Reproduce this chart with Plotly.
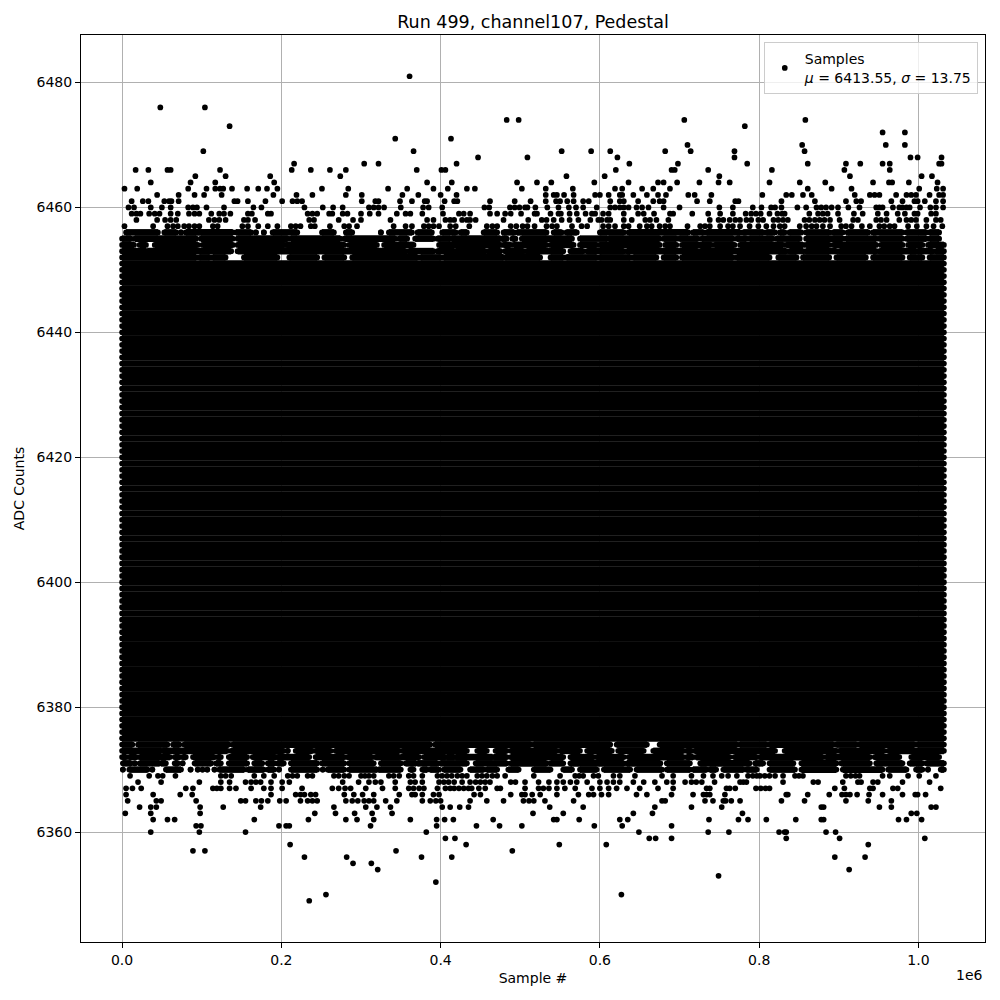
import plotly.graph_objects as go

# ---------------- data (sample positions in thousands of samples) ----------------
SAMPLE_UNIT = 1000
first_sample_k = 0
last_sample_k = 1032

# ADC levels that are fully populated over the whole run
core_low, core_high = 6375, 6451

# partially populated ADC levels: covered sample ranges (k samples)
run_levels = [6456, 6455, 6454, 6453, 6452, 6374, 6373, 6372, 6371, 6370]
run_spans_k = [
    [(5, 45), (53, 68), (74, 74), (80, 139), (143, 162), (168, 168), (178, 178), (189, 220), (251, 266), (281, 289),
     (325, 325), (335, 364), (371, 389), (402, 419), (425, 433), (454, 471), (479, 492), (496, 533), (542, 552),
     (558, 571), (600, 630), (636, 711), (717, 730), (734, 776), (780, 805), (809, 820), (826, 832), (838, 853),
     (859, 888), (893, 905), (911, 937), (943, 980), (985, 1010), (1014, 1026)],
    [(0, 11), (16, 93), (99, 139), (145, 208), (212, 274), (279, 343), (348, 358), (368, 391), (396, 412), (414, 475),
     (477, 483), (490, 494), (502, 565), (575, 609), (611, 675), (680, 696), (700, 723), (728, 767), (772, 784),
     (788, 817), (822, 851), (859, 905), (909, 947), (951, 980), (985, 1010), (1014, 1026)],
    [(0, 15), (22, 30), (41, 95), (101, 139), (145, 204), (206, 279), (285, 320), (329, 366), (398, 475), (479, 488),
     (492, 533), (538, 567), (575, 596), (600, 675), (682, 696), (703, 740), (744, 769), (776, 830), (834, 855),
     (859, 888), (893, 947), (953, 980), (987, 1005), (1012, 1032)],
    [(0, 30), (32, 137), (145, 356), (360, 391), (396, 417), (419, 456), (460, 475), (481, 504), (508, 554), (563, 579),
     (584, 630), (634, 723), (726, 834), (838, 855), (859, 897), (901, 947), (951, 997), (999, 1018), (1022, 1032)],
    [(0, 93), (97, 110), (114, 130), (153, 195), (210, 245), (254, 279), (289, 371), (375, 400), (404, 479), (481, 525),
     (538, 554), (558, 596), (600, 638), (642, 671), (680, 696), (703, 767), (772, 813), (824, 847), (855, 888),
     (897, 934), (943, 980), (989, 1005), (1014, 1032)],
    [(0, 13), (20, 57), (64, 72), (78, 134), (139, 387), (393, 513), (517, 613), (621, 659), (675, 772), (776, 809),
     (813, 893), (897, 922), (926, 995), (999, 1032)],
    [(0, 49), (51, 132), (137, 203), (208, 208), (218, 239), (243, 262), (268, 348), (352, 433), (446, 458), (469, 483),
     (488, 546), (550, 575), (584, 615), (623, 655), (667, 705), (709, 715), (719, 820), (832, 897), (901, 957),
     (962, 1032)],
    [(0, 5), (9, 18), (22, 60), (66, 72), (76, 80), (89, 116), (120, 124), (134, 157), (164, 193), (195, 235), (243, 279),
     (283, 314), (318, 348), (350, 373), (379, 406), (408, 417), (419, 465), (467, 483), (488, 554), (563, 592),
     (596, 630), (636, 705), (709, 717), (721, 763), (769, 797), (801, 880), (884, 939), (945, 976), (991, 1026)],
    [(1, 11), (16, 16), (22, 47), (49, 55), (66, 70), (76, 76), (91, 112), (118, 124), (134, 157), (166, 176), (183, 191),
     (195, 203), (212, 245), (251, 279), (285, 316), (325, 350), (356, 369), (371, 396), (400, 433), (444, 483),
     (488, 533), (538, 554), (563, 630), (634, 676), (684, 713), (726, 788), (795, 805), (813, 843), (853, 897),
     (903, 939), (947, 980), (989, 1005), (1010, 1032)],
    [(1, 1), (9, 32), (38, 38), (55, 74), (86, 86), (95, 95), (101, 101), (107, 107), (116, 116), (122, 153), (158, 178),
     (183, 191), (197, 197), (212, 245), (252, 252), (258, 279), (285, 320), (322, 350), (362, 366), (377, 383),
     (387, 398), (404, 425), (437, 454), (458, 471), (485, 498), (517, 538), (554, 565), (575, 596), (605, 638),
     (646, 678), (684, 713), (717, 734), (738, 746), (755, 780), (784, 797), (813, 845), (853, 897), (905, 955),
     (962, 985), (997, 1005), (1012, 1012), (1028, 1032)],
]

# sparse ADC levels: individual samples (k samples)
outlier_levels = [6481, 6476, 6474, 6473, 6472, 6471, 6470, 6469, 6468, 6467, 6466, 6465, 6464, 6463, 6462,
                  6461, 6460, 6459, 6458, 6457,
                  6369, 6368, 6367, 6366, 6365, 6364, 6363, 6362, 6361, 6360, 6359, 6358, 6357, 6356,
                  6355, 6354, 6353, 6352, 6350, 6349]
outlier_samples_k = [
    [361],
    [48, 104],
    [483, 498, 706, 858],
    [135, 782],
    [955, 983],
    [343, 413],
    [710, 854, 959, 983],
    [102, 366, 552, 589, 613, 682, 714, 769, 857],
    [447, 509, 622, 769, 990, 999, 1029],
    [216, 304, 322, 420, 637, 698, 785, 861, 909, 927, 955, 964, 1026, 1029],
    [17, 33, 57, 61, 123, 213, 237, 261, 281, 370, 401, 406, 620, 690, 694, 736, 816, 907, 964],
    [92, 130, 186, 274, 558, 606, 750, 914, 1004, 1017],
    [36, 86, 117, 191, 383, 414, 496, 521, 539, 593, 636, 673, 680, 697, 725, 749, 763, 813, 851, 883, 943, 963,
     967, 988, 1024],
    [3, 19, 83, 106, 117, 123, 127, 138, 157, 171, 182, 195, 251, 284, 334, 358, 391, 409, 433, 443, 502, 532, 566,
     619, 628, 653, 667, 688, 861, 891, 916, 1001, 1023, 1031],
    [44, 71, 91, 103, 125, 190, 219, 239, 281, 301, 352, 372, 400, 420, 532, 542, 546, 555, 567, 594, 600, 611, 625,
     628, 642, 659, 673, 683, 711, 719, 740, 804, 834, 841, 855, 866, 920, 939, 945, 951, 972, 985, 991, 997, 1014,
     1026, 1031],
    [12, 26, 33, 53, 59, 62, 71, 141, 145, 158, 180, 201, 214, 220, 226, 301, 318, 322, 349, 364, 380, 383, 405, 417,
     421, 462, 493, 513, 532, 545, 550, 559, 567, 579, 586, 613, 625, 630, 648, 667, 675, 680, 722, 738, 770, 774,
     828, 870, 909, 922, 928, 966, 980, 995, 999, 1008, 1022, 1031],
    [8, 15, 36, 50, 61, 83, 89, 94, 106, 128, 165, 175, 229, 252, 265, 277, 310, 316, 322, 329, 350, 378, 385, 402,
     455, 461, 487, 493, 499, 506, 509, 519, 534, 548, 561, 570, 579, 596, 613, 619, 625, 630, 636, 646, 653, 661,
     680, 700, 750, 767, 792, 803, 815, 820, 828, 848, 859, 872, 878, 884, 891, 899, 912, 926, 947, 951, 955, 968,
     976, 980, 985, 989, 1002, 1015, 1022, 1031],
    [12, 18, 23, 34, 41, 47, 61, 70, 84, 91, 97, 112, 122, 128, 136, 158, 163, 183, 187, 233, 239, 245, 260, 264, 277,
     283, 300, 311, 322, 345, 356, 362, 377, 403, 423, 429, 437, 462, 471, 481, 488, 501, 518, 521, 538, 548, 551,
     562, 571, 582, 590, 594, 604, 611, 630, 648, 655, 668, 688, 692, 716, 736, 751, 767, 783, 790, 796, 802, 813,
     823, 829, 832, 863, 874, 880, 886, 899, 919, 930, 949, 960, 974, 983, 995, 999, 1016, 1022],
    [18, 44, 54, 61, 68, 109, 116, 122, 130, 153, 158, 167, 235, 241, 272, 290, 300, 337, 383, 391, 406, 412, 417,
     427, 433, 437, 444, 479, 510, 527, 533, 542, 552, 562, 573, 588, 598, 602, 609, 613, 630, 640, 657, 663, 671,
     686, 738, 749, 755, 763, 770, 776, 784, 790, 799, 805, 818, 824, 830, 836, 857, 863, 870, 876, 882, 889, 901,
     918, 924, 947, 953, 960, 976, 985, 991, 997, 1010, 1022, 1028],
    [3, 39, 57, 64, 70, 78, 84, 91, 97, 114, 120, 151, 158, 171, 183, 195, 212, 218, 224, 237, 242, 261, 279, 285,
     295, 341, 356, 364, 379, 385, 391, 398, 412, 419, 436, 458, 465, 471, 488, 495, 503, 509, 518, 533, 540, 546,
     565, 577, 584, 604, 611, 619, 630, 636, 650, 659, 665, 675, 682, 688, 710, 726, 732, 738, 751, 761, 767, 776,
     788, 799, 809, 818, 826, 832, 851, 859, 866, 872, 880, 889, 903, 909, 916, 929, 939, 951, 957, 964, 970, 987,
     998, 1010, 1019, 1030],
    [10, 34, 45, 51, 67, 124, 130, 137, 166, 178, 191, 208, 214, 220, 233, 239, 266, 272, 279, 285, 300, 305, 310,
     316, 335, 341, 348, 360, 366, 377, 396, 402, 408, 414, 421, 427, 433, 446, 452, 458, 465, 471, 481, 517, 550,
     569, 574, 579, 592, 598, 617, 625, 644, 678, 692, 715, 730, 742, 753, 761, 772, 786, 792, 797, 801, 807, 813,
     820, 830, 845, 850, 855, 909, 915, 921, 926, 955, 964, 987, 1001, 1022],
    [20, 49, 97, 124, 135, 155, 162, 168, 174, 187, 201, 210, 277, 297, 310, 318, 325, 343, 362, 368, 377, 398, 404,
     410, 417, 427, 437, 444, 450, 456, 462, 488, 494, 506, 523, 536, 546, 554, 563, 571, 584, 600, 609, 617, 625,
     642, 655, 669, 684, 692, 707, 715, 721, 728, 744, 776, 780, 784, 830, 868, 874, 905, 924, 928, 943, 949, 980,
     1014],
    [5, 13, 24, 80, 89, 114, 119, 124, 135, 143, 162, 178, 187, 201, 226, 264, 272, 280, 287, 306, 327, 343, 360, 366,
     373, 379, 396, 406, 412, 417, 423, 429, 435, 439, 448, 456, 471, 475, 506, 523, 529, 536, 546, 556, 569, 590,
     600, 611, 621, 634, 650, 673, 692, 734, 738, 759, 763, 770, 796, 802, 808, 813, 895, 907, 939, 943, 968, 974,
     1028],
    [5, 39, 73, 88, 187, 218, 224, 229, 237, 243, 279, 291, 302, 316, 348, 364, 368, 377, 391, 398, 442, 450, 488,
     502, 506, 515, 525, 546, 573, 586, 592, 602, 611, 646, 659, 690, 717, 730, 734, 738, 757, 834, 836, 861, 888,
     904, 909, 914, 923, 938, 955, 980, 996, 999, 1009],
    [7, 43, 49, 93, 149, 155, 168, 175, 183, 198, 206, 224, 233, 239, 245, 281, 289, 296, 304, 310, 316, 331, 345,
     377, 387, 394, 400, 437, 458, 479, 504, 511, 517, 531, 567, 678, 682, 732, 742, 755, 758, 765, 776, 828, 857,
     909, 937, 966],
    [22, 36, 43, 98, 127, 174, 266, 306, 320, 337, 402, 412, 424, 435, 537, 579, 669, 715, 753, 878, 881, 951, 966,
     1016, 1022],
    [4, 36, 98, 242, 268, 292, 314, 339, 516, 554, 642, 666, 779, 991, 998],
    [39, 57, 66, 166, 234, 281, 295, 316, 362, 395, 405, 416, 466, 542, 546, 574, 625, 635, 737, 774, 786, 809, 846,
     878, 881, 975, 985, 1004],
    [93, 99, 197, 206, 210, 312, 395, 445, 474, 502, 593, 628, 690],
    [36, 97, 155, 382, 649, 736, 762, 825, 832, 834, 884, 896],
    [406, 418, 662, 670, 690, 834, 901, 1008],
    [211, 432, 549, 608, 937],
    [89, 104, 344, 490],
    [229, 282, 376, 414, 895, 933],
    [290, 313],
    [321, 913],
    [749],
    [394],
    [256, 627],
    [235],
]

x_tick_labels = ["0.0", "0.2", "0.4", "0.6", "0.8", "1.0"]
x_tick_scale = 1e6
y_ticks = [6360, 6380, 6400, 6420, 6440, 6460, 6480]

title_text = "Run 499, channel107, Pedestal"
legend_name = "Samples<br><i>μ</i> = 6413.55, <i>σ</i> = 13.75"

# ---------------- build traces ----------------
FONT = "DejaVu Sans"
DOT = 5.7
band_x, band_y = [], []
for lvl in range(core_low, core_high + 1):
    band_x += [first_sample_k * SAMPLE_UNIT, last_sample_k * SAMPLE_UNIT, None]
    band_y += [lvl, lvl, None]
for lvl, spans in zip(run_levels, run_spans_k):
    for a, b in spans:
        band_x += [a * SAMPLE_UNIT, b * SAMPLE_UNIT, None]
        band_y += [lvl, lvl, None]

pt_x, pt_y = [], []
for lvl, xs in zip(outlier_levels, outlier_samples_k):
    for xv in xs:
        pt_x.append(xv * SAMPLE_UNIT)
        pt_y.append(lvl)

fig = go.Figure()
fig.add_trace(go.Scatter(
    x=band_x, y=band_y, mode="lines+markers", connectgaps=False,
    line=dict(color="black", width=6.6),
    marker=dict(size=DOT, color="black"),
    showlegend=False, hoverinfo="skip"))
fig.add_trace(go.Scatter(
    x=pt_x, y=pt_y, mode="markers",
    marker=dict(size=DOT, color="black"),
    name=legend_name, showlegend=True))

all_levels = outlier_levels + run_levels + [core_low, core_high]
ymin, ymax = min(all_levels), max(all_levels)
ypad = 0.05 * (ymax - ymin)
xmin, xmax = first_sample_k * SAMPLE_UNIT, last_sample_k * SAMPLE_UNIT
xpad = 0.05 * (xmax - xmin)

# the page body adds an 8px offset, so the figure is 992px and margins are reduced by 8
fig.update_layout(
    width=992, height=992,
    margin=dict(l=73, r=15, t=27, b=58, autoexpand=False),
    paper_bgcolor="white", plot_bgcolor="white",
    font=dict(family=FONT, size=14, color="black"),
    title=dict(text=title_text, x=0.5, xref="paper", y=1 - 14 / 992, yref="container",
               xanchor="center", yanchor="middle", font=dict(size=17.5, family=FONT, color="black")),
    legend=dict(x=0.992, y=0.992, xanchor="right", yanchor="top",
                bgcolor="rgba(255,255,255,0.8)", bordercolor="#cccccc", borderwidth=1,
                font=dict(size=14, family=FONT, color="black"), valign="middle",
                tracegroupgap=0),
    showlegend=True,
)
fig.update_xaxes(
    range=[xmin - xpad, xmax + xpad],
    tickvals=[float(t) * x_tick_scale for t in x_tick_labels], ticktext=x_tick_labels,
    ticks="outside", ticklen=5, tickcolor="black", tickwidth=1,
    showgrid=True, gridcolor="#b0b0b0", gridwidth=0.8, zeroline=False,
    showline=True, linecolor="black", linewidth=1, mirror=True,
    title=dict(text="Sample #", standoff=6, font=dict(size=14, family=FONT)),
    tickfont=dict(size=14, family=FONT),
)
fig.update_yaxes(
    range=[ymin - ypad, ymax + ypad],
    tickvals=y_ticks, ticktext=[str(v) for v in y_ticks],
    ticks="outside", ticklen=5, tickcolor="black", tickwidth=1,
    showgrid=True, gridcolor="#b0b0b0", gridwidth=0.8, zeroline=False,
    showline=True, linecolor="black", linewidth=1, mirror=True,
    title=dict(text="ADC Counts", standoff=8, font=dict(size=14, family=FONT)),
    tickfont=dict(size=14, family=FONT),
)
fig.add_annotation(text="1e6", x=1, xref="paper", y=0, yref="paper", xanchor="right", yanchor="top",
                   yshift=-23, showarrow=False, font=dict(size=14, family=FONT, color="black"))

fig.write_html("out.html")
